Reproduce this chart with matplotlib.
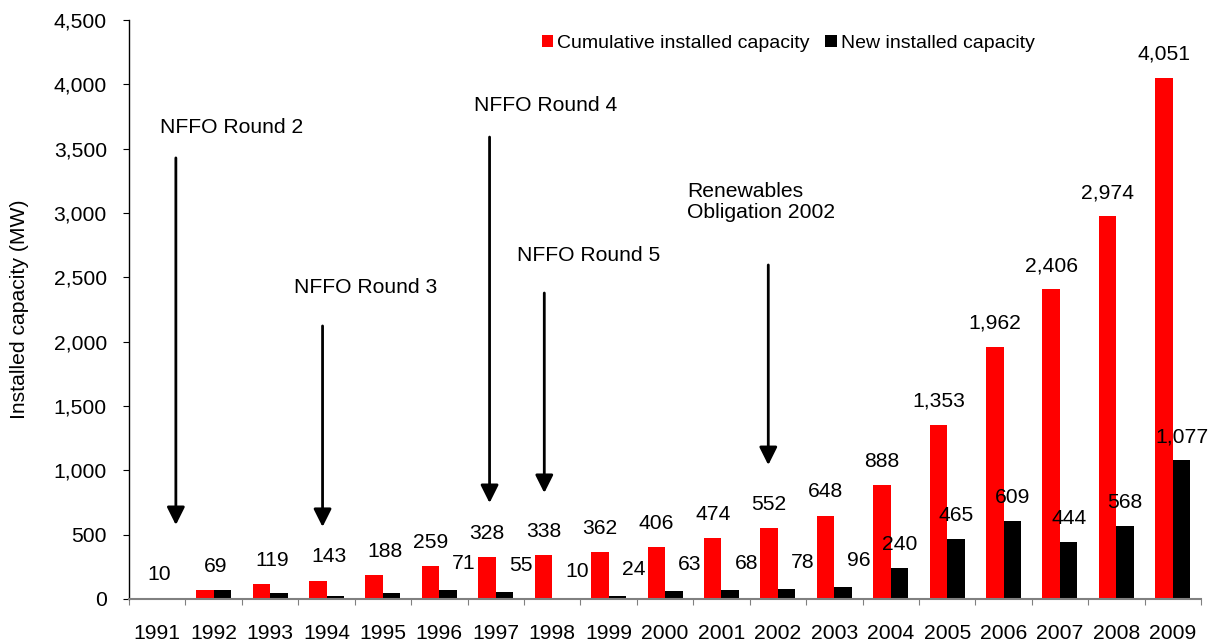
import numpy as np
import matplotlib.pyplot as plt
from matplotlib.ticker import FuncFormatter

plt.rcParams['font.family'] = ['Liberation Sans', 'DejaVu Sans']

# Yıllar ve kapasite değerleri (MW)
yillar = ['1991', '1992', '1993', '1994', '1995', '1996', '1997', '1998', '1999', '2000',
          '2001', '2002', '2003', '2004', '2005', '2006', '2007', '2008', '2009']
kumulatif = [10, 69, 119, 143, 188, 259, 328, 338, 362, 406, 474, 552, 648, 888, 1353, 1962, 2406, 2974, 4051]
yeni = [10, 69, 50, 24, 45, 71, 55, 10, 24, 63, 68, 78, 96, 240, 465, 609, 444, 568, 1077]
yeni_etiket_baslangic = 5  # yeni kapasite etiketleri 1996'dan itibaren

# Olaylar: (metin, metin x, metin y, ok x, ok üst, ok ucu)
olaylar = [
    ("NFFO Round 2", 0.05, 3668, 0.33, 3428, 575),
    ("NFFO Round 3", 2.42, 2417, 2.93, 2122, 560),
    ("NFFO Round 4", 5.61, 3839, 5.89, 3590, 746),
    ("NFFO Round 5", 6.38, 2673, 6.86, 2378, 824),
    ("Renewables\nObligation 2002", 9.39, 3085, 10.83, 2596, 1041),
]

fig, ax = plt.subplots(figsize=(12.15, 6.44), dpi=100)
fig.subplots_adjust(left=0.1062, right=0.9885, bottom=0.0699, top=0.969)

x = np.arange(len(yillar))
g = 0.31
ax.bar(x - g / 2, kumulatif, g, color='#ff0000', label='Cumulative installed capacity')
ax.bar(x + g / 2, yeni, g, color='black', label='New installed capacity')

fs = 15.2
for i, v in enumerate(kumulatif):
    dx = 8 if i < 5 else 0  # ilk yıllarda etiketler biraz sağda
    ax.annotate(f'{v:,}', (x[i] - g / 2, v), xytext=(dx, 17), textcoords='offset points',
                ha='center', va='center', fontsize=fs)

for i in range(yeni_etiket_baslangic, len(yeni)):
    v = yeni[i]
    dx = 11.5 if v < 100 else 0
    dy = 19 if v < 100 else 17
    ax.annotate(f'{v:,}', (x[i] + g / 2, v), xytext=(dx, dy), textcoords='offset points',
                ha='center', va='center', fontsize=fs)

for metin, tx, ty, ox, oust, ouc in olaylar:
    ax.text(tx, ty, metin, ha='left', va='center', fontsize=fs, linespacing=1.1)
    ax.annotate('', xy=(ox, ouc), xytext=(ox, oust),
                arrowprops=dict(arrowstyle='-|>,head_length=0.4,head_width=0.2', color='black',
                                lw=2, mutation_scale=27, shrinkA=0, shrinkB=0))

ax.set_xlim(-0.5, len(yillar) - 0.5)
ax.set_ylim(0, 4500)
ax.set_yticks(np.arange(0, 4501, 500))
ax.yaxis.set_major_formatter(FuncFormatter(lambda v, p: f'{v:,.0f}'))
ax.tick_params(axis='y', direction='out', length=4, pad=12, labelsize=fs, color='black')

ax.set_xticks(np.arange(-0.5, len(yillar), 1))
ax.set_xticklabels([])
ax.set_xticks(x, minor=True)
ax.set_xticklabels(yillar, minor=True)
ax.tick_params(axis='x', which='major', direction='out', length=4, color='#808080')
ax.tick_params(axis='x', which='minor', length=0, pad=18, labelsize=fs)

ax.set_ylabel('Installed capacity (MW)', fontsize=fs)
ax.yaxis.set_label_coords(-0.093, 0.5)

ax.spines['top'].set_visible(False)
ax.spines['right'].set_visible(False)
ax.spines['bottom'].set_color('#808080')
ax.spines['bottom'].set_linewidth(1.5)
ax.spines['left'].set_linewidth(1.0)

ax.legend(loc='center', bbox_to_anchor=(0.615, 0.96), ncol=2, frameon=False, fontsize=14,
          handlelength=0.6, handleheight=0.6, handletextpad=0.2, columnspacing=0.8)

plt.savefig('out.png')
